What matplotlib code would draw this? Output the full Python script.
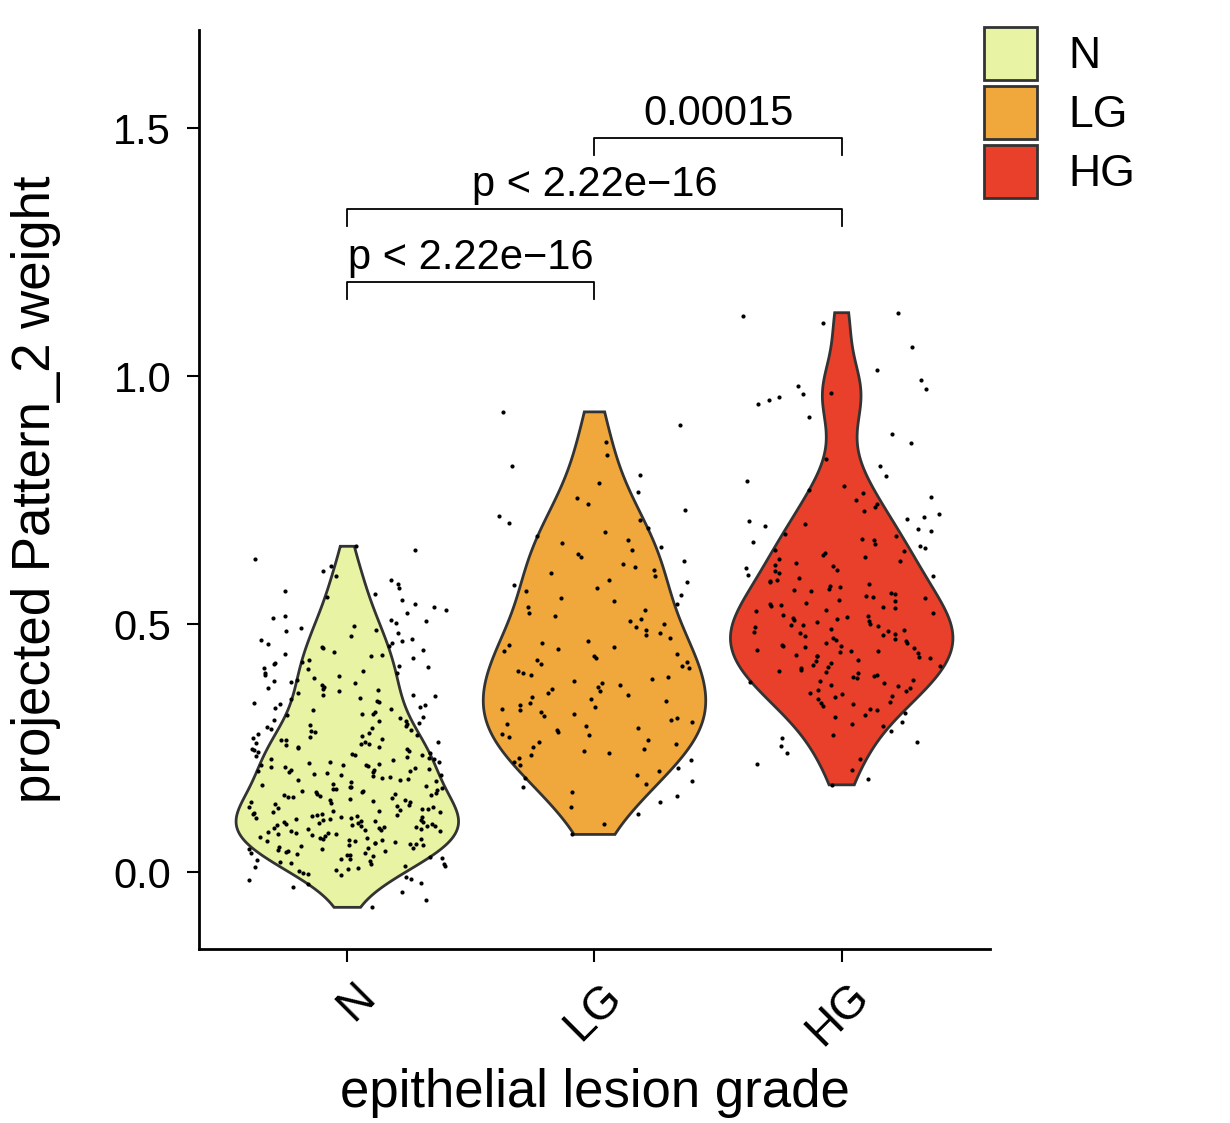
import numpy as np
import matplotlib
matplotlib.use("Agg")
import matplotlib.pyplot as plt
import matplotlib.transforms as mtransforms
from matplotlib.patches import Patch

plt.rcParams['font.family'] = ['Liberation Sans', 'DejaVu Sans']

groups = ['N', 'LG', 'HG']
colors = ['#E9F3A4', '#F0A83C', '#E8402A']

# projected Pattern_2 weight per cell
n_vals = [
    -0.071, -0.057, -0.041, -0.029,
    -0.023, -0.021, -0.015, -0.013, -0.009, -0.006, -0.004, -0.001, 0.002, 0.004, 0.007,
    0.009, 0.012, 0.013, 0.016, 0.017, 0.019, 0.021, 0.022, 0.024, 0.011,
    0.026, 0.027, 0.031, 0.032, 0.034, 0.035, 0.037, 0.039, 0.041, 0.042, 0.043, 0.046,
    0.047, 0.048, 0.051, 0.052, 0.054, 0.055, 0.057, 0.058, 0.061, 0.062, 0.063, 0.065,
    0.066, 0.068, 0.069, 0.071, 0.072, 0.074, 0.044, 0.056, 0.067,
    0.029, 0.038, 0.049, 0.059, 0.064,
    0.076, 0.077, 0.078, 0.079, 0.081, 0.082, 0.083, 0.085, 0.086, 0.087, 0.088, 0.089,
    0.091, 0.092, 0.093, 0.094, 0.096, 0.097, 0.098, 0.099, 0.101, 0.102, 0.103, 0.104,
    0.106, 0.107, 0.108, 0.109, 0.111, 0.112, 0.113, 0.114, 0.116, 0.117, 0.118, 0.119,
    0.121, 0.122, 0.123, 0.124, 0.095, 0.105, 0.115, 0.084, 0.090, 0.100, 0.110,
    0.126, 0.128, 0.129, 0.131, 0.132, 0.134, 0.136, 0.137, 0.139, 0.141, 0.142, 0.144,
    0.146, 0.147, 0.149, 0.151, 0.152, 0.154, 0.156, 0.157, 0.159, 0.161, 0.162, 0.164,
    0.166, 0.167, 0.169, 0.171, 0.172, 0.174, 0.158, 0.163, 0.168, 0.127, 0.145, 0.155,
    0.176, 0.178, 0.181, 0.183, 0.185, 0.187, 0.189, 0.191, 0.193, 0.195, 0.197, 0.199,
    0.201, 0.203, 0.205, 0.207, 0.209, 0.211, 0.213, 0.215, 0.217, 0.219, 0.221, 0.223,
    0.196, 0.202, 0.206, 0.212, 0.216, 0.222, 0.186, 0.204,
    0.226, 0.228, 0.231, 0.233, 0.236, 0.238, 0.241, 0.243, 0.246, 0.248, 0.251, 0.253,
    0.256, 0.258, 0.261, 0.263, 0.266, 0.268, 0.271, 0.273, 0.229, 0.237, 0.244, 0.252,
    0.259, 0.267, 0.274, 0.234, 0.249, 0.262,
    0.276, 0.279, 0.282, 0.285, 0.288, 0.291, 0.294, 0.297, 0.301, 0.304, 0.307, 0.310,
    0.313, 0.316, 0.319, 0.322, 0.281, 0.293, 0.305, 0.318, 0.287, 0.299,
    0.326, 0.329, 0.333, 0.336, 0.339, 0.342, 0.346, 0.349, 0.352, 0.355, 0.358, 0.362,
    0.365, 0.368, 0.371, 0.374, 0.331, 0.344, 0.357, 0.369,
    0.377, 0.381, 0.384, 0.388, 0.391, 0.395, 0.398, 0.402, 0.405, 0.409, 0.412, 0.416,
    0.419, 0.422, 0.386, 0.401, 0.414, 0.424,
    0.427, 0.431, 0.435, 0.439, 0.443, 0.447, 0.451, 0.455, 0.459, 0.463, 0.467, 0.471,
    0.437, 0.453, 0.468,
    0.477, 0.482, 0.487, 0.492, 0.497, 0.502, 0.507, 0.512, 0.517, 0.522, 0.489, 0.508,
    0.528, 0.535, 0.541, 0.548, 0.554, 0.561, 0.567, 0.573,
    0.581, 0.589, 0.598, 0.607, 0.618, 0.632, 0.649, 0.657,
]
lg_vals = [
    0.076, 0.098, 0.117,
    0.131, 0.142, 0.153, 0.161, 0.172,
    0.177, 0.183, 0.189, 0.196, 0.203, 0.209, 0.216, 0.222,
    0.227, 0.231, 0.236, 0.240, 0.244, 0.249, 0.253, 0.258, 0.262, 0.267, 0.272,
    0.276, 0.279, 0.283, 0.287, 0.291, 0.295, 0.299, 0.303, 0.307, 0.311, 0.315, 0.319, 0.323,
    0.326, 0.329, 0.333, 0.337, 0.341, 0.345, 0.349, 0.353, 0.357, 0.361, 0.365, 0.369, 0.373,
    0.377, 0.381, 0.385, 0.389, 0.394, 0.398, 0.402, 0.406, 0.411, 0.415, 0.419, 0.423,
    0.427, 0.431, 0.436, 0.440, 0.445, 0.449, 0.454, 0.458, 0.463, 0.467, 0.472,
    0.478, 0.483, 0.489, 0.494, 0.500, 0.506, 0.511, 0.517, 0.522,
    0.528, 0.534, 0.540, 0.547, 0.553, 0.559, 0.566, 0.572,
    0.578, 0.584, 0.590, 0.597, 0.603, 0.609, 0.616, 0.622,
    0.628, 0.635, 0.642, 0.649, 0.656, 0.663, 0.670,
    0.678, 0.686, 0.694, 0.703, 0.711, 0.719,
    0.731, 0.742, 0.754, 0.766,
    0.784, 0.801, 0.818, 0.842, 0.868, 0.902, 0.928,
]
hg_vals = [
    0.176, 0.188, 0.205, 0.219,
    0.228, 0.241, 0.255, 0.262, 0.270,
    0.276, 0.285, 0.294, 0.298, 0.303, 0.312, 0.316, 0.321,
    0.326, 0.329, 0.335, 0.338, 0.341, 0.344, 0.350, 0.353, 0.356, 0.359,
    0.362, 0.365, 0.368, 0.371,
    0.376, 0.378, 0.381, 0.383, 0.386, 0.388, 0.391, 0.393, 0.396, 0.398, 0.401, 0.403,
    0.406, 0.408, 0.411, 0.413, 0.416, 0.418, 0.421,
    0.426, 0.428, 0.431, 0.433, 0.436, 0.438, 0.441, 0.443, 0.446, 0.448, 0.451, 0.453,
    0.456, 0.458, 0.461, 0.463, 0.466, 0.468, 0.471, 0.473, 0.435, 0.445, 0.455,
    0.476, 0.479, 0.481, 0.484, 0.486, 0.489, 0.491, 0.494, 0.496, 0.499, 0.501, 0.504,
    0.506, 0.509, 0.511, 0.514, 0.516, 0.519, 0.522, 0.483, 0.498, 0.512,
    0.527, 0.529, 0.532, 0.535, 0.538, 0.541, 0.543, 0.546, 0.549, 0.552, 0.555, 0.557,
    0.560, 0.563, 0.566, 0.569, 0.571, 0.574, 0.537,
    0.577, 0.580, 0.584, 0.587, 0.590, 0.594, 0.597, 0.600, 0.604, 0.607, 0.610, 0.614,
    0.617, 0.620, 0.623,
    0.628, 0.632, 0.635, 0.639, 0.643, 0.647, 0.650, 0.654, 0.658, 0.661, 0.665, 0.669, 0.672,
    0.677, 0.682, 0.687, 0.692, 0.697, 0.702, 0.707, 0.712, 0.717, 0.722,
    0.729, 0.736, 0.743, 0.750, 0.757, 0.764, 0.771,
    0.779, 0.789, 0.799, 0.819,
    0.832, 0.866, 0.884, 0.918,
    0.944, 0.952, 0.958, 0.964, 0.967, 0.974, 0.981, 0.993, 1.012,
    1.058, 1.108, 1.121, 1.128,
]
# pairwise comparisons: (group a, group b, label)
comparisons = [(0, 1, 'p < 2.22e\u221216'), (0, 2, 'p < 2.22e\u221216'), (1, 2, '0.00015')]
bracket_y = [1.19, 1.337, 1.48]

data = [np.array(n_vals), np.array(lg_vals), np.array(hg_vals)]

fig = plt.figure(figsize=(12.3, 11.23), dpi=100)
ax = fig.add_axes([199/1230, 1 - 949/1123, (990-199)/1230, (949-30)/1123])


def kde(v, grid):
    # bw.nrd0 as in R
    sd = v.std(ddof=1)
    iqr = np.subtract(*np.percentile(v, [75, 25]))
    bw = 0.9 * min(sd, iqr / 1.34) * len(v) ** -0.2
    d = np.exp(-0.5 * ((grid[:, None] - v[None, :]) / bw) ** 2).sum(axis=1)
    return d


rng = np.random.default_rng(7)
for i, v in enumerate(data):
    grid = np.linspace(v.min(), v.max(), 512)
    d = kde(v, grid)
    half = d / d.max() * 0.45
    xs = np.concatenate([i - half, (i + half)[::-1]])
    ys = np.concatenate([grid, grid[::-1]])
    ax.fill(xs, ys, facecolor=colors[i], edgecolor='#333333', linewidth=2, zorder=2)
    jit = rng.uniform(-0.4, 0.4, len(v))
    ax.scatter(i + jit, v, s=9, color='black', linewidths=0, zorder=3)

tip = 0.035
for (a, b, lab), yb in zip(comparisons, bracket_y):
    ax.plot([a, a, b, b], [yb - tip, yb, yb, yb - tip], color='black', lw=1.3, zorder=4)
    ax.text((a + b) / 2, yb + 0.026, lab, ha='center', va='baseline', fontsize=30)

ax.set_xlim(-0.6, 2.6)
ax.set_ylim(-0.155, 1.698)
ax.set_xticks(range(3))
ax.set_yticks([0.0, 0.5, 1.0, 1.5])
ax.set_yticklabels(['0.0', '0.5', '1.0', '1.5'], fontsize=30)
ax.tick_params(length=9, width=1.5, pad=11)
ax.set_xticklabels(groups, rotation=45, ha='right', va='top', rotation_mode='anchor',
                   fontsize=33)
shift = mtransforms.ScaledTranslation(5/100, 2/100, fig.dpi_scale_trans)
for lab in ax.get_xticklabels():
    lab.set_transform(lab.get_transform() + shift)
for side in ['top', 'right']:
    ax.spines[side].set_visible(False)
for side in ['left', 'bottom']:
    ax.spines[side].set_linewidth(2)
ax.set_xlabel('epithelial lesion grade', fontsize=38, labelpad=10)
ax.set_ylabel('projected Pattern_2 weight', fontsize=38, labelpad=38)

handles = [Patch(facecolor=c, edgecolor='#333333', linewidth=2) for c in colors]
fig.legend(handles, groups, loc='upper left', bbox_to_anchor=(984/1230, 1 - 27/1123),
           frameon=False, fontsize=32, handlelength=1.2, handleheight=1.45,
           handletextpad=0.7, labelspacing=0.14, borderpad=0, borderaxespad=0)

fig.savefig('out.png', dpi=100)
